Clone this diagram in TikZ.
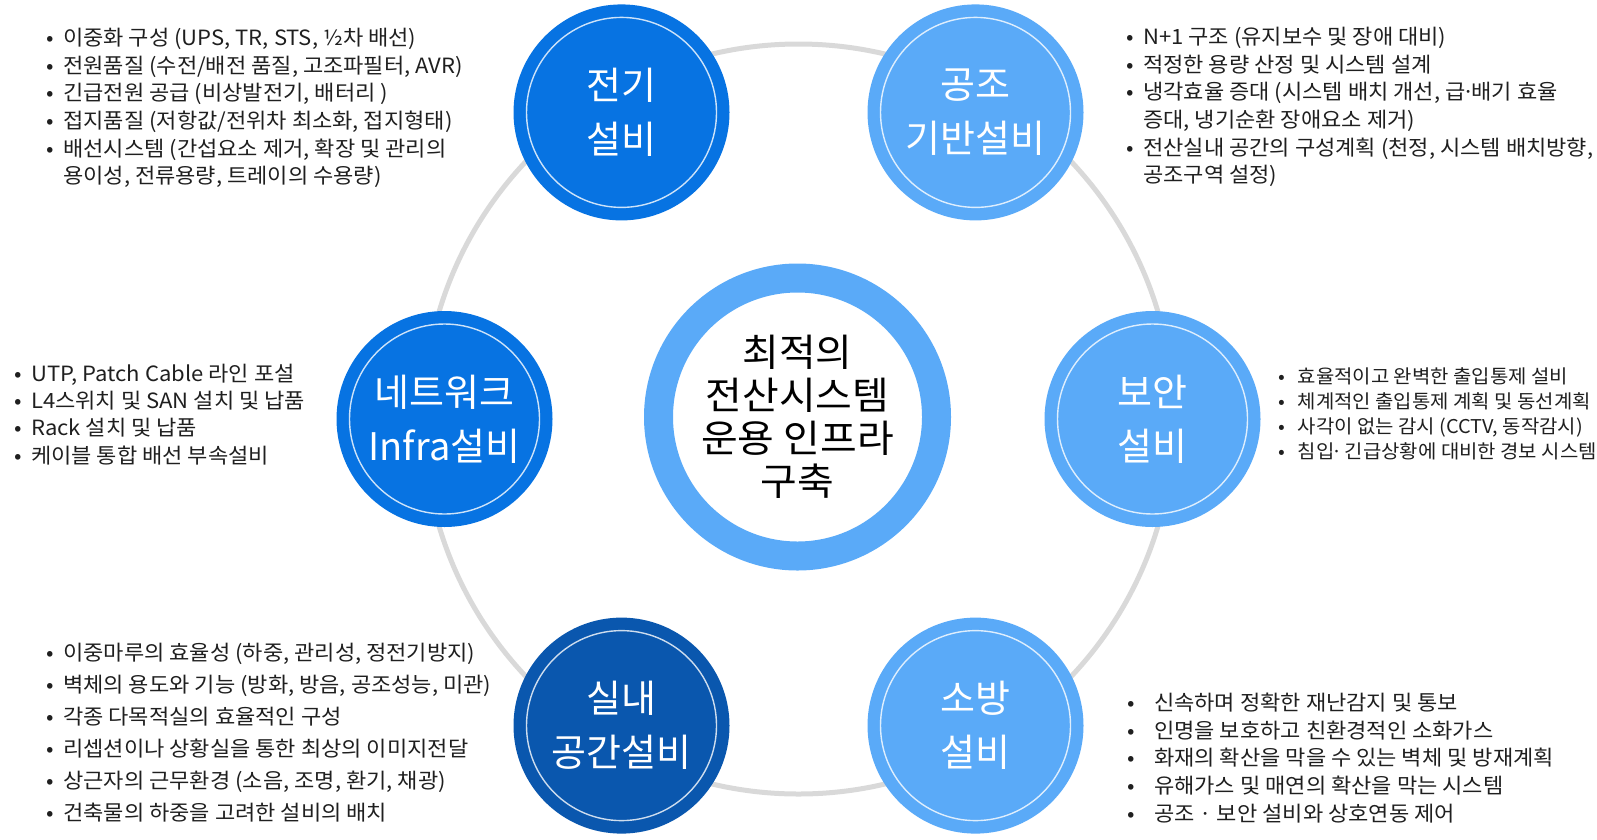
\documentclass[tikz,border=0pt]{standalone}
\usepackage{fontspec}
\setmainfont{Noto Sans CJK KR}
\newfontfamily\widefont[FakeStretch=1.05]{Noto Sans CJK KR}
\definecolor{cA}{RGB}{7,115,226}
\definecolor{cL}{RGB}{90,170,248}
\definecolor{cD}{RGB}{10,87,174}
\definecolor{ringgray}{RGB}{217,217,217}
\newcommand\myb[1][17pt]{\makebox[#1][l]{•}}
\newcommand\myi[1][17pt]{\hspace*{#1}}
\newcommand\mdot{\makebox[6pt]{·}}
\tikzset{
  bigring/.style={draw=ringgray, line width=5pt},
  unit/.style={circle, minimum size=216pt, inner sep=0pt, text=white, align=center,
     font=\fontsize{38}{54}\selectfont},
  innerring/.style={draw=white, draw opacity=0.8, line width=1.4pt},
  core/.style={circle, draw=cL, line width=29pt, fill=white, minimum size=278pt, inner sep=0pt,
     align=center, font=\widefont\fontsize{38}{43}\selectfont},
  blk/.style={anchor=west, inner sep=0pt, align=left, text=black!88},
}
\begin{document}
\begin{tikzpicture}[x=1pt,y=-1pt]
\useasboundingbox (0,0) rectangle (1597,839);
\coordinate (O) at (798.5,419);
\draw[bigring] (O) circle (375);
\node[core] (c) at (797.5,417) {최적의\\전산시스템\\운용 인프라\\구축};
\node[unit, fill=cA] (e) at (621.5,112.4) {전기\\설비};
\node[unit, fill=cL] (h) at (975.5,112.4) {공조\\기반설비};
\node[unit, fill=cA] (n) at (444.5,419) {네트워크\\Infra설비};
\node[unit, fill=cL] (s) at (1152.5,419) {보안\\설비};
\node[unit, fill=cD] (r) at (621.5,725.6) {실내\\공간설비};
\node[unit, fill=cL] (f) at (975.5,725.6) {소방\\설비};
\foreach \k in {e,h,n,s,r,f} \draw[innerring] (\k.center) circle (95);

\node[blk, font=\widefont\fontsize{21}{27.7}\selectfont] (t1) at (46,108) {%
\myb 이중화 구성 (UPS, TR, STS, ½차 배선)\\
\myb 전원품질 (수전/배전 품질, 고조파필터, AVR)\\
\myb 긴급전원 공급 (비상발전기, 배터리 )\\
\myb 접지품질 (저항값/전위차 최소화, 접지형태)\\
\myb 배선시스템 (간섭요소 제거, 확장 및 관리의\\
\myi 용이성, 전류용량, 트레이의 수용량)};

\node[blk, font=\widefont\fontsize{21}{27.7}\selectfont] (t2) at (1126,107) {%
\myb N+1 구조 (유지보수 및 장애 대비)\\
\myb 적정한 용량 산정 및 시스템 설계\\
\myb 냉각효율 증대 (시스템 배치 개선, 급\mdot 배기 효율\\
\myi 증대, 냉기순환 장애요소 제거)\\
\myb 전산실내 공간의 구성계획 (천정, 시스템 배치방향,\\
\myi 공조구역 설정)};

\node[blk, font=\widefont\fontsize{21}{27.2}\selectfont] (t3) at (14,414.5) {%
\myb UTP, Patch Cable 라인 포설\\
\myb L4스위치 및 SAN 설치 및 납품\\
\myb Rack 설치 및 납품\\
\myb 케이블 통합 배선 부속설비};

\node[blk, font=\widefont\fontsize{19}{24.8}\selectfont] (t4) at (1278,414) {%
\myb[15pt] 효율적이고 완벽한 출입통제 설비\\
\myb[15pt] 체계적인 출입통제 계획 및 동선계획\\
\myb[15pt] 사각이 없는 감시 (CCTV, 동작감시)\\
\myb[15pt] 침입\mdot\ 긴급상황에 대비한 경보 시스템};

\node[blk, font=\widefont\fontsize{21}{32}\selectfont] (t5) at (46,733) {%
\myb 이중마루의 효율성 (하중, 관리성, 정전기방지)\\
\myb 벽체의 용도와 기능 (방화, 방음, 공조성능, 미관)\\
\myb 각종 다목적실의 효율적인 구성\\
\myb 리셉션이나 상황실을 통한 최상의 이미지전달\\
\myb 상근자의 근무환경 (소음, 조명, 환기, 채광)\\
\myb 건축물의 하중을 고려한 설비의 배치};

\node[blk, font=\widefont\fontsize{21}{27.8}\selectfont] (t6) at (1127,758) {%
\myb[22pt] 신속하며 정확한 재난감지 및 통보\\
\myb[22pt] 인명을 보호하고 친환경적인 소화가스\\
\myb[22pt] 화재의 확산을 막을 수 있는 벽체 및 방재계획\\
\myb[22pt] 유해가스 및 매연의 확산을 막는 시스템\\
\myb[22pt] 공조 · 보안 설비와 상호연동 제어};
\end{tikzpicture}
\end{document}
